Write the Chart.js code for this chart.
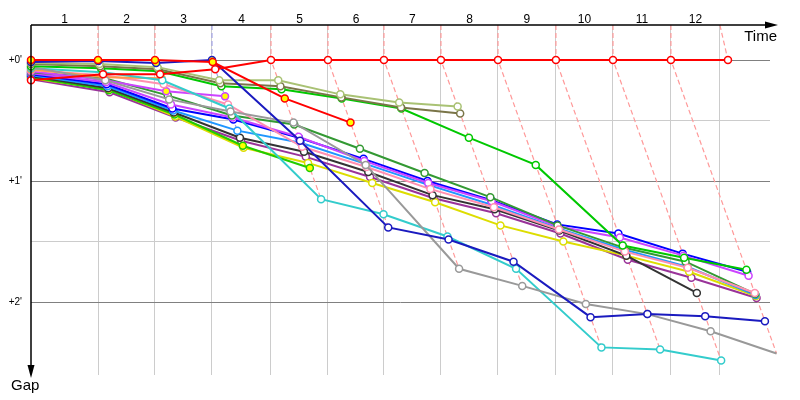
<!DOCTYPE html>
<html>
<head>
<meta charset="utf-8">
<script src="https://cdn.jsdelivr.net/npm/chart.js@4.4.0/dist/chart.umd.min.js"></script>
<style>
html, body { margin: 0; padding: 0; background: #fff; }
</style>
</head>
<body>
<canvas id="myChart" width="800" height="400"></canvas>
<script>
// time (s) at which the lap leader closed each lap
var leaderTimes = [92.3, 170.8, 249.3, 330.6, 409.1, 486.2, 564.7, 643.3, 723.1, 801.7, 881.5, 960.1];
var raceEnd = 949;
var lapLabels = ['1', '2', '3', '4', '5', '6', '7', '8', '9', '10', '11', '12'];
var gapTicks = [0, 30, 60, 90, 120];

// gap to the leader in seconds, index 0 = start, then lap 1, lap 2 ...
var red1     = [10, 7, 7, 4.5, 0, 0, 0, 0, 0, 0, 0, 0, 0];
var red2     = [0, 0, 0, 1, 19, 31];
var navy     = [1, 0.5, 1.5, 0, 40, 83, 89, 100, 127.5, 126, 127, 129.5];
var ltOlive  = [1.5, 2, 3.5, 10, 10, 17, 21, 23];
var dkOlive  = [2, 3, 4.5, 11.5, 13, 18.5, 23.5, 26.5];
var green    = [3, 4, 5.5, 13, 14.5, 19, 24, 38.5, 52, 92, 98, 104];
var gray     = [3.5, 10, 19.5, 25.5, 31, 52, 103.5, 112, 121, 126, 134.5, 145.5];
var cyan     = [4, 6, 10, 24, 69, 76.5, 87.5, 103.5, 142.5, 143.5, 149];
var orange   = [4.5, 8.5, 9];
var pink     = [5, 7.5, 12, 22, 43, 53, 64, 73, 84, 95, 103, 115.5];
var violet   = [5.5, 10, 15.5, 18];
var dkGreen  = [6, 9, 17.5, 27.5, 32, 44, 56, 68, 82, 93, 100, 116];
var magenta  = [6.5, 11, 22, 28.5, 38, 50, 61, 70, 82.5, 88, 97, 107];
var blue     = [7, 12, 24, 29.5, 38.5, 49, 60, 69.5, 81.5, 86, 96, 105];
var ltBlue   = [7.5, 13, 25, 35, 41, 51.5, 62, 72, 83.5, 94, 102.5, 116.5];
var black    = [8, 14, 26, 38.5, 45.5, 55.5, 67, 74, 84.5, 97, 115.5];
var lime     = [8.5, 15, 27, 42.5, 53.5];
var yellow   = [9, 14.5, 28, 43.5, 51, 61, 70.5, 82, 90, 97, 105, 117];
var purple   = [9.5, 16, 28.5, 40, 48, 58, 68.5, 76, 86, 99, 108, 118];

var drivers = [
    {gaps: red1, color: '#ff0000'},
    {gaps: red2, color: '#ff0000', yellowUntil: 99},
    {gaps: navy, color: '#1a1abf', yellowUntil: 3},
    {gaps: ltOlive, color: '#a9c274'},
    {gaps: dkOlive, color: '#7a7548'},
    {gaps: green, color: '#00c800'},
    {gaps: gray, color: '#999999'},
    {gaps: cyan, color: '#33cccc'},
    {gaps: orange, color: '#ff9944', yellowUntil: 99},
    {gaps: pink, color: '#ff8fb0'},
    {gaps: violet, color: '#cc44ff', yellowUntil: 99},
    {gaps: dkGreen, color: '#339933'},
    {gaps: magenta, color: '#cc44ff'},
    {gaps: blue, color: '#0000ff'},
    {gaps: ltBlue, color: '#1e96ff'},
    {gaps: black, color: '#333333'},
    {gaps: lime, color: '#22cc00', yellowUntil: 99},
    {gaps: yellow, color: '#dddd00'},
    {gaps: purple, color: '#993399'}
];

var gridTimes = leaderTimes.slice(0, 11).concat([raceEnd]);
var tMin = 0, tMax = 1018, gMin = -17.4, gMax = 156.2;

function lighten(hex, k) {
    var n = parseInt(hex.slice(1), 16);
    var r = (n >> 16) & 255, g = (n >> 8) & 255, b = n & 255;
    r = Math.round(r + (255 - r) * k);
    g = Math.round(g + (255 - g) * k);
    b = Math.round(b + (255 - b) * k);
    return 'rgb(' + r + ',' + g + ',' + b + ')';
}

var dataset = [];

drivers.forEach(function (d, i) {
    var pts = d.gaps.map(function (g, lap) {
        return {x: lap === 0 ? 0 : leaderTimes[lap - 1] + g, y: g};
    });
    var fills = d.gaps.map(function (g, lap) {
        return (d.yellowUntil !== undefined && lap <= d.yellowUntil) ? '#ffff00' : '#ffffff';
    });
    dataset.push({
        data: pts,
        borderColor: d.color,
        backgroundColor: d.color,
        borderWidth: 2,
        pointRadius: 3.5,
        pointBorderWidth: 1.5,
        pointBorderColor: d.color,
        pointBackgroundColor: fills,
        tension: 0,
        clip: false,
        order: i
    });
});

// dashed lap lines, coloured after the lap leader
leaderTimes.forEach(function (t, i) {
    var lap = i + 1, maxG = 0, lead = null, best = Infinity;
    drivers.forEach(function (d) {
        var g = d.gaps[lap];
        if (g === undefined) return;
        if (g > maxG) maxG = g;
        if (g < best) { best = g; lead = d; }
    });
    dataset.push({
        data: [{x: gridTimes[i], y: gMin}, {x: t, y: 0}, {x: t + maxG, y: maxG}],
        borderColor: lighten(lead.color, 0.6),
        borderWidth: 1.2,
        borderDash: [5, 3],
        pointRadius: 0,
        tension: 0,
        clip: false,
        order: 100
    });
});

var axisArrows = {
    id: 'axisArrows',
    afterDraw: function (chart) {
        var c = chart.ctx, a = chart.chartArea;
        c.save();
        c.strokeStyle = '#000';
        c.fillStyle = '#000';
        c.lineWidth = 1.5;
        c.beginPath();
        c.moveTo(a.left, a.top);
        c.lineTo(a.right + 3, a.top);
        c.moveTo(a.left, a.top);
        c.lineTo(a.left, a.bottom - 2);
        c.stroke();
        c.beginPath();
        c.moveTo(a.right + 8, a.top);
        c.lineTo(a.right - 5, a.top - 3.5);
        c.lineTo(a.right - 5, a.top + 3.5);
        c.closePath();
        c.fill();
        c.beginPath();
        c.moveTo(a.left, a.bottom + 3);
        c.lineTo(a.left - 3.5, a.bottom - 10);
        c.lineTo(a.left + 3.5, a.bottom - 10);
        c.closePath();
        c.fill();
        c.font = '15px "Liberation Sans"';
        c.textAlign = 'right';
        c.textBaseline = 'alphabetic';
        c.fillText('Time', a.right + 7, a.top + 16);
        c.textAlign = 'left';
        c.fillText('Gap', 11, a.bottom + 15);
        c.restore();
    }
};

var myChart = new Chart(document.getElementById('myChart'), {
    type: 'line',
    data: {datasets: dataset},
    options: {
        responsive: false,
        animation: false,
        events: [],
        layout: {padding: {left: 0, top: 0, right: 30, bottom: 0}},
        plugins: {legend: {display: false}, tooltip: {enabled: false}},
        scales: {
            x: {
                type: 'linear', position: 'top', min: tMin, max: tMax,
                grid: {display: false, drawTicks: false},
                border: {display: false},
                afterBuildTicks: function (ax) {
                    var prev = 0;
                    ax.ticks = gridTimes.map(function (t) {
                        var m = (prev + t) / 2;
                        prev = t;
                        return {value: m};
                    });
                },
                ticks: {
                    callback: function (v, i) { return lapLabels[i]; },
                    font: {family: 'Liberation Sans', size: 12},
                    color: '#000', padding: -2, maxRotation: 0, autoSkip: false
                },
                afterFit: function (ax) { ax.height = 25; }
            },
            x2: {
                type: 'linear', position: 'bottom', min: tMin, max: tMax,
                ticks: {display: false},
                grid: {color: '#cccccc', drawTicks: false},
                border: {display: false},
                afterBuildTicks: function (ax) {
                    ax.ticks = gridTimes.map(function (t) { return {value: t}; });
                },
                afterFit: function (ax) { ax.height = 25; }
            },
            y: {
                type: 'linear', reverse: true, min: gMin, max: gMax,
                afterBuildTicks: function (ax) {
                    ax.ticks = gapTicks.map(function (v) { return {value: v}; });
                },
                ticks: {
                    callback: function (v) { return v % 60 === 0 ? '+' + (v / 60) + "'" : ''; },
                    font: {family: 'Liberation Sans', size: 10},
                    color: '#000', padding: 9
                },
                grid: {
                    color: function (c) { return c.tick && c.tick.value % 60 === 0 ? '#808080' : '#cccccc'; },
                    drawTicks: false
                },
                border: {display: false},
                afterFit: function (ax) { ax.width = 31; }
            }
        }
    },
    plugins: [axisArrows]
});
</script>
</body>
</html>
